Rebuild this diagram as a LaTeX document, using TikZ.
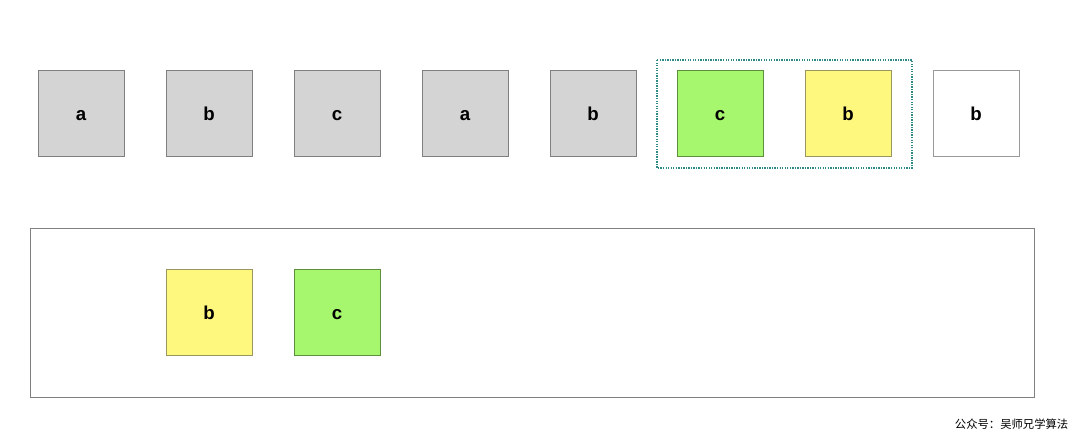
\documentclass[tikz,border=0pt]{standalone}
\usepackage{fontspec}
\setmainfont{Liberation Sans}
\newfontfamily\cjk{Noto Sans CJK SC}
\definecolor{boxgray}{HTML}{D4D4D4}
\definecolor{boxgreen}{HTML}{A6F76E}
\definecolor{boxyellow}{HTML}{FFF87E}
\definecolor{edgegray}{HTML}{808080}
\definecolor{edgegreen}{HTML}{5E8F3C}
\definecolor{edgeyellow}{HTML}{9A9660}
\definecolor{dotteal}{HTML}{2F8A86}
\begin{document}
\begin{tikzpicture}[x=0.75pt,y=-0.75pt,
  cell/.style={draw=edgegray,line width=0.6pt,minimum width=64.5pt,minimum height=64pt,inner sep=0pt,text height=11pt,text depth=0pt,font=\fontsize{14}{14}\selectfont\bfseries},
  graycell/.style={cell,fill=boxgray},
  greencell/.style={cell,fill=boxgreen,draw=edgegreen},
  yellowcell/.style={cell,fill=boxyellow,draw=edgeyellow},
  whitecell/.style={cell,fill=white,draw=edgegray!80}]
\useasboundingbox (0,0) rectangle (1080,433);
\fill[white] (0,0) rectangle (1080,433);
\node[graycell] (t1) at (81,113.5) {a};
\node[graycell] (t2) at (209,113.5) {b};
\node[graycell] (t3) at (337,113.5) {c};
\node[graycell] (t4) at (465,113.5) {a};
\node[graycell] (t5) at (593,113.5) {b};
\node[greencell] (t6) at (720,113.5) {c};
\node[yellowcell] (t7) at (848,113.5) {b};
\node[whitecell] (t8) at (976,113.5) {b};
\draw[dotteal,line width=1.2pt,dash pattern=on 1pt off 0.9pt] (657,60) rectangle (912,168);
\draw[edgegray,line width=0.7pt] (30,228) rectangle (1034,397);
\node[yellowcell] (w1) at (209,312.5) {b};
\node[greencell] (w2) at (337,312.5) {c};
\node[anchor=east,font=\cjk\fontsize{8.5}{8.5}\selectfont] (sig) at (1073,424) {公众号：吴师兄学算法};
\end{tikzpicture}
\end{document}
